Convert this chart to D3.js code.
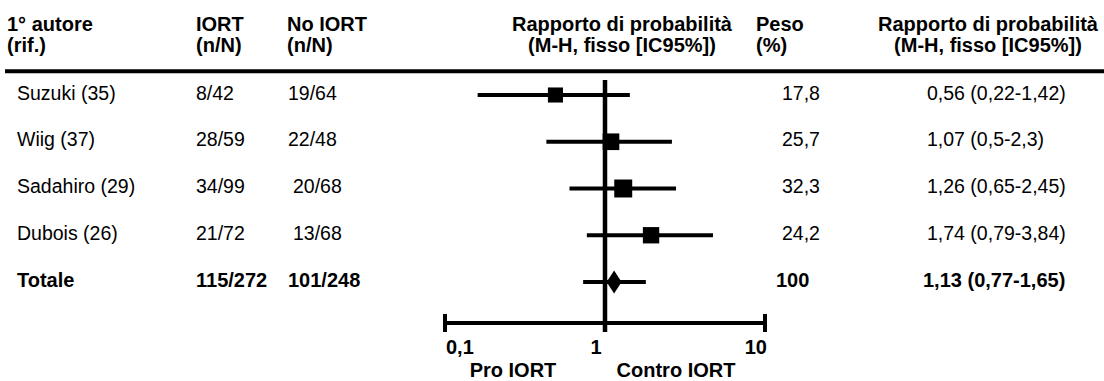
<!DOCTYPE html>
<html>
<head>
<meta charset="utf-8">
<script src="https://cdn.jsdelivr.net/npm/d3@7"></script>
<style>
  html, body { margin: 0; padding: 0; background: #fff; }
  svg { display: block; }
  text { font-family: "Liberation Sans", Arial, sans-serif; fill: #000; }
</style>
</head>
<body>
<svg id="chart" width="1104" height="381"></svg>
<script>
// ---- data ----
const authors   = ["Suzuki (35)", "Wiig (37)", "Sadahiro (29)", "Dubois (26)"];
const iortN     = ["8/42", "28/59", "34/99", "21/72"];
const noIortN   = ["19/64", "22/48", "20/68", "13/68"];
const weights   = [17.8, 25.7, 32.3, 24.2];
const weightLabels = ["17,8", "25,7", "32,3", "24,2"];
const orLabels  = ["0,56 (0,22-1,42)", "1,07 (0,5-2,3)", "1,26 (0,65-2,45)", "1,74 (0,79-3,84)"];
// odds ratios as drawn in the picture (point, lower, upper)
const orPoint   = [0.49, 1.09, 1.30, 1.94];
const ciLow     = [0.16, 0.43, 0.60, 0.77];
const ciHigh    = [1.43, 2.62, 2.78, 4.73];
// total row
const totalLabel = "Totale";
const totalIort  = "115/272";
const totalNoIort = "101/248";
const totalWeight = "100";
const totalOrLabel = "1,13 (0,77-1,65)";
const totalOr = [1.14, 0.73, 1.80];
// axis
const axisTicks = [0.1, 1, 10];
const axisTickLabels = ["0,1", "1", "10"];
const axisSideLabels = ["Pro IORT", "Contro IORT"];

// ---- layout ----
const svg = d3.select("#chart");
const FS = 19.5, FSB = 20;
const x = d3.scaleLog().domain([0.1, 10]).range([445, 765]);
const rowKeys = [...authors, totalLabel];
const y = d3.scalePoint().domain(rowKeys).range([95, 282]);
const boxSize = d3.scaleLinear().domain([15, 35]).range([14.5, 18.5]);

const col = { author: 7, authorRow: 17, iort: 196, noIort: 288, peso: 756, pesoRow: 782, or: 927 };

function txt(xp, yp, s, opts = {}) {
  return svg.append("text")
    .attr("x", xp).attr("y", yp)
    .attr("font-size", opts.size || (opts.bold ? FSB : FS))
    .attr("font-weight", opts.bold ? "bold" : "normal")
    .attr("text-anchor", opts.anchor || "start")
    .text(s);
}

// header
const h1 = 31, h2 = 52;
txt(col.author, h1, "1° autore", {bold: true});
txt(col.author, h2, "(rif.)", {bold: true});
txt(col.iort, h1, "IORT", {bold: true});
txt(col.iort, h2, "(n/N)", {bold: true});
txt(col.noIort - 1, h1, "No IORT", {bold: true});
txt(col.noIort - 1, h2, "(n/N)", {bold: true});
txt(622, h1, "Rapporto di probabilità", {bold: true, anchor: "middle"});
txt(622, h2, "(M-H, fisso [IC95%])", {bold: true, anchor: "middle"});
txt(col.peso, h1, "Peso", {bold: true});
txt(col.peso, h2, "(%)", {bold: true});
txt(988, h1, "Rapporto di probabilità", {bold: true, anchor: "middle"});
txt(988, h2, "(M-H, fisso [IC95%])", {bold: true, anchor: "middle"});

// header rule
svg.append("line").attr("x1", 5).attr("x2", 1104).attr("y1", 71.3).attr("y2", 71.3)
  .attr("stroke", "#000").attr("stroke-width", 4);

// rows text
const dy = 4.5;
const noIortShift = [0, 0, 5, 5];
authors.forEach((a, i) => {
  const yy = y(a) + dy;
  txt(col.authorRow, yy, a);
  txt(col.iort, yy, iortN[i]);
  txt(col.noIort + noIortShift[i], yy, noIortN[i]);
  txt(col.pesoRow, yy, weightLabels[i]);
  txt(col.or, yy, orLabels[i]);
});
const ty = y(totalLabel) + dy;
txt(col.authorRow, ty, totalLabel, {bold: true});
txt(col.iort, ty, totalIort, {bold: true});
txt(col.noIort, ty, totalNoIort, {bold: true});
txt(col.pesoRow - 6, ty, totalWeight, {bold: true});
txt(col.or - 4, ty, totalOrLabel, {bold: true});

// vertical line of no effect
svg.append("line").attr("x1", x(1)).attr("x2", x(1)).attr("y1", 80).attr("y2", 332)
  .attr("stroke", "#000").attr("stroke-width", 4.5);

// CIs
const g = svg.append("g");
authors.forEach((a, i) => {
  g.append("line").attr("x1", x(ciLow[i])).attr("x2", x(ciHigh[i]))
    .attr("y1", y(a)).attr("y2", y(a)).attr("stroke", "#000").attr("stroke-width", 4);
  const s = boxSize(weights[i]);
  g.append("rect").attr("x", x(orPoint[i]) - s / 2).attr("y", y(a) - s / 2)
    .attr("width", s).attr("height", s).attr("fill", "#000");
});
// total
const tyc = y(totalLabel);
g.append("line").attr("x1", x(totalOr[1])).attr("x2", x(totalOr[2]))
  .attr("y1", tyc).attr("y2", tyc).attr("stroke", "#000").attr("stroke-width", 4);
const dx = x(totalOr[0]);
g.append("path").attr("d", `M${dx - 7.5},${tyc} L${dx},${tyc - 11.5} L${dx + 7.5},${tyc} L${dx},${tyc + 11.5} Z`)
  .attr("fill", "#000");

// axis
const ay = 323;
svg.append("line").attr("x1", x(0.1)).attr("x2", x(10)).attr("y1", ay).attr("y2", ay)
  .attr("stroke", "#000").attr("stroke-width", 4);
[0.1, 10].forEach(v => {
  svg.append("line").attr("x1", x(v)).attr("x2", x(v)).attr("y1", ay - 9).attr("y2", ay + 9)
    .attr("stroke", "#000").attr("stroke-width", 4);
});
const tickOffsets = [{dx: 1, a: "start"}, {dx: -9, a: "middle"}, {dx: 2, a: "end"}];
axisTicks.forEach((t, i) => {
  txt(x(t) + tickOffsets[i].dx, 354, axisTickLabels[i], {bold: true, anchor: tickOffsets[i].a});
});
txt(513, 377, axisSideLabels[0], {bold: true, anchor: "middle"});
txt(676, 377, axisSideLabels[1], {bold: true, anchor: "middle"});
</script>
</body>
</html>
